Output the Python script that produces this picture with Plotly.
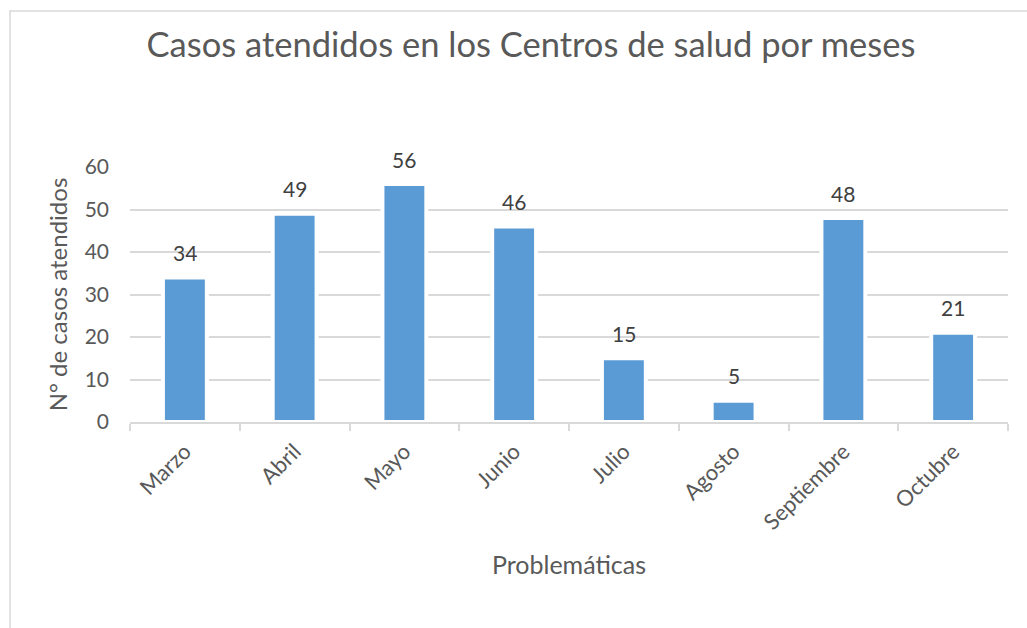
import plotly.graph_objects as go

meses = ["Marzo", "Abril", "Mayo", "Junio", "Julio", "Agosto", "Septiembre", "Octubre"]
casos = [34, 49, 56, 46, 15, 5, 48, 21]
y_ticks = [0, 10, 20, 30, 40, 50, 60]

FONT = "Lato"
GREY = "#595959"

fig = go.Figure()
fig.add_trace(go.Bar(
    x=meses, y=casos,
    marker=dict(color="#5B9BD5", line=dict(color="white", width=4)),
    width=0.40,
    hoverinfo="skip",
))

# data labels above the bars
for m, v in zip(meses, casos):
    fig.add_annotation(x=m, y=v, text=str(v), showarrow=False,
                       yanchor="middle", yshift=25,
                       font=dict(family=FONT, size=21, color="#404040"))

L, R, T, B = 130, 1008, 167, 422
W, H = 1027, 628
pw, ph = R - L, B - T

fig.update_layout(
    width=W, height=H,
    margin=dict(l=L, r=W - R, t=T, b=H - B, autoexpand=False),
    paper_bgcolor="white", plot_bgcolor="white",
    showlegend=False,
    font=dict(family=FONT, color=GREY),
    title=dict(text="Casos atendidos en los Centros de salud por meses",
               x=531 / W, xanchor="center", y=1 - 45 / H, yanchor="middle",
               font=dict(family=FONT, size=34.5, color=GREY)),
    xaxis=dict(
        showline=True, linecolor="#d9d9d9", linewidth=2,
        ticks="outside", tickson="boundaries", ticklen=7, tickcolor="#d9d9d9", tickwidth=2,
        tickangle=-45, tickfont=dict(family=FONT, size=22, color=GREY),
        ticklabelstandoff=6,
        title=dict(text="Problemáticas", font=dict(family=FONT, size=25, color=GREY), standoff=23),
        showgrid=False,
    ),
    yaxis=dict(
        range=[0, 60], tickvals=y_ticks,
        showgrid=True, gridcolor="#d9d9d9", gridwidth=1.5,
        zeroline=False, showline=False, ticks="",
        ticklabelstandoff=20,
        tickfont=dict(family=FONT, size=21, color=GREY),
        title=dict(text="N° de casos atendidos", font=dict(family=FONT, size=24, color=GREY), standoff=10),
    ),
    bargap=0.6,
)

# chart-area border (Excel style)
fig.add_shape(type="rect", xref="paper", yref="paper",
              x0=(10 - L) / pw, x1=(1040 - L) / pw,
              y0=(B - 650) / ph, y1=(B - 11) / ph,
              line=dict(color="#d9d9d9", width=1.5), fillcolor="rgba(0,0,0,0)", layer="below")

fig.write_html("out.html", config={"displayModeBar": False},
               post_script="document.body.style.margin='0';")
